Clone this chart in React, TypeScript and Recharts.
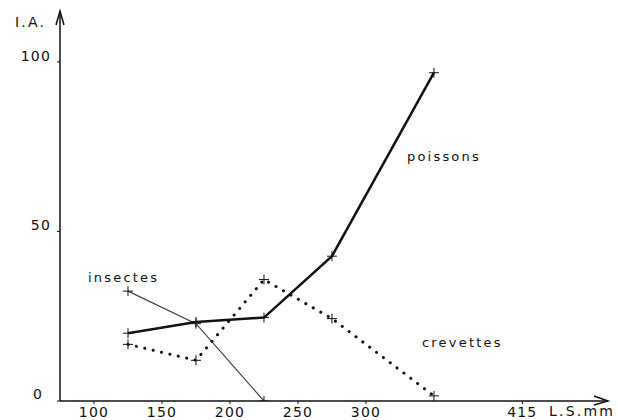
import React from "react";
import { LineChart, Line, XAxis, YAxis, ReferenceDot } from "recharts";

// longueur standard (mm), centres de classe
const lengths = [125, 175, 225, 275, 350];
// indice alimentaire (I.A.) par proie
const poissons = [20, 23.3, 24.6, 42.7, 96.8];
const crevettes = [16.7, 12, 35.8, 24.3, 1.5];
const insectes = [32.4, 22.8, 0, null, null];

const xTicks = [100, 150, 200, 250, 300, 415];
const yTicks = [0, 50, 100];

const data = lengths.map((ls, i) => ({
  ls,
  poissons: poissons[i],
  crevettes: crevettes[i],
  insectes: insectes[i],
}));

const FONT = "'DejaVu Sans', sans-serif";

const Cross = (props: any) => {
  const { cx, cy, index } = props;
  if (cx == null || cy == null) return <g key={`c-${index}`} />;
  return (
    <g key={`c-${index}`} stroke="#111" strokeWidth={1}>
      <line x1={cx - 5} y1={cy} x2={cx + 5} y2={cy} />
      <line x1={cx} y1={cy - 5} x2={cx} y2={cy + 5} />
    </g>
  );
};

const YTick = (props: any) => {
  const { x, y, payload } = props;
  const zero = payload.value === 0;
  return (
    <text x={zero ? x - 12 : x - 4} y={zero ? y - 2 : y - 1} textAnchor="end" fontSize={14}
      letterSpacing={1.2} fontFamily={FONT} fill="#111">
      {payload.value}
    </text>
  );
};

const XTick = (props: any) => {
  const { x, y, payload } = props;
  return (
    <text x={x} y={y + 11} textAnchor="middle" fontSize={14} letterSpacing={1.2}
      fontFamily={FONT} fill="#111">
      {payload.value}
    </text>
  );
};

const label = (text: string, left: number, top: number, size = 13) => (
  <div style={{
    position: "absolute", left, top, fontFamily: FONT, fontSize: size,
    letterSpacing: 2.2, color: "#111", lineHeight: "15px", whiteSpace: "nowrap",
  }}>{text}</div>
);

export default function App() {
  return (
    <div style={{ position: "absolute", left: 0, top: 0, width: 618, height: 420, background: "#fff" }}>
      <LineChart width={618} height={420} data={data}
        margin={{ top: 11, right: 10, bottom: 0, left: 0 }}>
        <XAxis type="number" dataKey="ls" domain={[75, 478]} ticks={xTicks} allowDataOverflow
          height={19} tickSize={3} tick={<XTick />}
          axisLine={{ stroke: "#111", strokeWidth: 1.5 }} tickLine={{ stroke: "#111" }} />
        <YAxis type="number" domain={[0, 115]} ticks={yTicks} allowDataOverflow width={60}
          tickSize={3} tick={<YTick />}
          axisLine={{ stroke: "#111", strokeWidth: 1.5 }} tickLine={{ stroke: "#111" }} />
        <Line dataKey="insectes" stroke="#444" strokeWidth={1.2} isAnimationActive={false}
          dot={(p: any) => <Cross {...p} />} connectNulls={false} />
        <Line dataKey="crevettes" stroke="#111" strokeWidth={3} strokeDasharray="0.1 8.5"
          strokeLinecap="round" isAnimationActive={false} dot={(p: any) => <Cross {...p} />} />
        <Line dataKey="poissons" stroke="#111" strokeWidth={2.5} isAnimationActive={false}
          dot={(p: any) => <Cross {...p} />} />
        <ReferenceDot x={478} y={0} ifOverflow="visible" shape={(p: any) => (
          <polyline points={`${p.cx - 14},${p.cy - 5} ${p.cx},${p.cy} ${p.cx - 14},${p.cy + 4}`}
            fill="none" stroke="#111" strokeWidth={1.5} />
        )} />
        <ReferenceDot x={75} y={115} ifOverflow="visible" shape={(p: any) => (
          <polyline points={`${p.cx - 4},${p.cy + 14} ${p.cx},${p.cy} ${p.cx + 4},${p.cy + 14}`}
            fill="none" stroke="#111" strokeWidth={1.5} />
        )} />
      </LineChart>
      {label("I.A.", 15, 15, 14)}
      {label("L.S.mm", 549, 404, 14)}
      {label("insectes", 88, 270)}
      {label("poissons", 407, 149)}
      {label("crevettes", 422, 335)}
    </div>
  );
}
